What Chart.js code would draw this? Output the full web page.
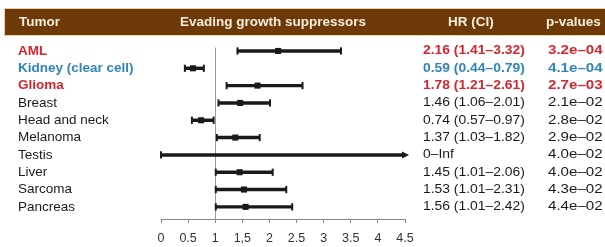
<!DOCTYPE html>
<html>
<head>
<meta charset="utf-8">
<script src="https://cdn.jsdelivr.net/npm/chart.js@4.4.1/dist/chart.umd.min.js"></script>
<style>
  html, body { margin: 0; padding: 0; background: #fff; }
  #wrap { width: 605px; height: 247px; }
</style>
</head>
<body>
<div id="wrap"><canvas id="forest"></canvas></div>
<script>
// Data
const tumors = ['AML', 'Kidney (clear cell)', 'Glioma', 'Breast', 'Head and neck',
                'Melanoma', 'Testis', 'Liver', 'Sarcoma', 'Pancreas'];
const hazardRatio = [2.16, 0.59, 1.78, 1.46, 0.74, 1.37, null, 1.45, 1.53, 1.56];
const ciLow  = [1.41, 0.44, 1.21, 1.06, 0.57, 1.03, 0, 1.01, 1.01, 1.01];
const ciHigh = [3.32, 0.79, 2.61, 2.01, 0.97, 1.82, Infinity, 2.06, 2.31, 2.42];
const pValues = [3.2e-4, 4.1e-4, 2.7e-3, 2.1e-2, 2.8e-2, 2.9e-2, 4.0e-2, 4.0e-2, 4.3e-2, 4.4e-2];
const xTickLabels = ['0', '0.5', '1', '1,5', '2', '2.5', '3', '3.5', '4', '4.5'];
const headers = ['Tumor', 'Evading growth suppressors', 'HR (CI)', 'p-values'];

// Styling
const FONT = "'Liberation Sans', Arial, sans-serif";
const X_MAX = 4.5;
const HILITE = { 0: '#d3262e', 1: '#3185b6', 2: '#d3262e' }; // rows in colour + bold
const INK = '#1a1a1a';
const DASH = '\u2013';

const rowColor = i => HILITE[i] || INK;
const rowWeight = i => (HILITE[i] ? 'bold' : 'normal');

function fmtP(p) {
    const [m, e] = p.toExponential(1).split('e');
    const n = Math.abs(parseInt(e, 10));
    return m + 'e' + DASH + (n < 10 ? '0' + n : n);
}
function fmtHR(i) {
    if (hazardRatio[i] == null) return ciLow[i] + DASH + 'Inf';
    return hazardRatio[i].toFixed(2) + ' (' + ciLow[i].toFixed(2) + DASH + ciHigh[i].toFixed(2) + ')';
}

// text in the figure is a bit wider than the font, stretch it horizontally
function wideText(ctx, txt, x, y, sx) {
    ctx.save();
    ctx.translate(x, y);
    ctx.scale(sx, 1);
    ctx.fillText(txt, 0, 0);
    ctx.restore();
}

// Header band, reference line, text columns, open-ended arrow
const forestDecor = {
    id: 'forestDecor',
    beforeDraw(chart) {
        const ctx = chart.ctx;
        ctx.save();
        ctx.fillStyle = '#6d3a07';
        ctx.fillRect(5, 9, 600, 26);
        ctx.strokeStyle = '#e8d3a8';
        ctx.lineWidth = 1;
        ctx.strokeRect(4.5, 8.5, 601, 27);
        ctx.fillStyle = '#f6ecdc';
        ctx.font = 'bold 13.5px ' + FONT;
        ctx.textBaseline = 'middle';
        const hx = [19, 180, 448, 546];
        headers.forEach((h, k) => ctx.fillText(h, hx[k], 22.5));
        ctx.restore();
    },
    beforeDatasetsDraw(chart) {
        const { ctx, chartArea } = chart;
        const x1 = chart.scales.x.getPixelForValue(1);
        ctx.save();
        ctx.strokeStyle = '#9a9a9a';
        ctx.lineWidth = 1;
        ctx.beginPath();
        ctx.moveTo(Math.round(x1) + 0.5, chartArea.top);
        ctx.lineTo(Math.round(x1) + 0.5, chartArea.bottom);
        ctx.stroke();
        ctx.restore();
    },
    afterDatasetsDraw(chart) {
        const { ctx, chartArea } = chart;
        const ys = chart.scales.y;
        ctx.save();
        ctx.textBaseline = 'middle';
        tumors.forEach((t, i) => {
            const y = ys.getPixelForValue(i);
            ctx.fillStyle = rowColor(i);
            ctx.font = rowWeight(i) + ' 12.5px ' + FONT;
            wideText(ctx, fmtHR(i), 423, y, 1.11);
            wideText(ctx, fmtP(pValues[i]), 548, y, 1.21);
            if (!isFinite(ciHigh[i])) {
                const ax = chartArea.right + 4;
                ctx.fillStyle = INK;
                ctx.beginPath();
                ctx.moveTo(ax, y);
                ctx.lineTo(ax - 7, y - 3.5);
                ctx.lineTo(ax - 7, y + 3.5);
                ctx.closePath();
                ctx.fill();
            }
        });
        ctx.restore();
    }
};

const rows = tumors.map((_, i) => i);

new Chart(document.getElementById('forest'), {
    data: {
        datasets: [
            {
                type: 'bar',
                indexAxis: 'y',
                data: rows.map(i => ({ y: i, x: [ciLow[i], Math.min(ciHigh[i], X_MAX)] })),
                backgroundColor: INK,
                barThickness: 2.8,
                clip: false
            },
            {
                type: 'scatter',
                data: rows.flatMap(i => [{ x: ciLow[i], y: i }, { x: ciHigh[i], y: i }])
                          .filter(p => isFinite(p.x)),
                pointStyle: 'line',
                rotation: 90,
                radius: 3.6,
                borderColor: INK,
                borderWidth: 2,
                clip: false
            },
            {
                type: 'scatter',
                data: rows.filter(i => hazardRatio[i] != null).map(i => ({ x: hazardRatio[i], y: i })),
                pointStyle: 'rect',
                radius: 4.3,
                backgroundColor: INK,
                borderWidth: 0,
                clip: false
            }
        ]
    },
    options: {
        responsive: true,
        maintainAspectRatio: false,
        animation: false,
        events: [],
        layout: { padding: { left: 18, right: 200, top: 47.5, bottom: 0 } },
        plugins: { legend: { display: false }, tooltip: { enabled: false } },
        scales: {
            x: {
                type: 'linear',
                min: 0,
                max: X_MAX,
                afterFit: s => { s.height = 28; },
                ticks: {
                    stepSize: 0.5,
                    autoSkip: false,
                    maxRotation: 0,
                    padding: 8,
                    color: '#333',
                    font: { family: FONT, size: 12.5 },
                    callback: (v, i) => xTickLabels[i]
                },
                grid: { drawOnChartArea: false, tickLength: 4, color: '#8a8a8a' },
                border: { color: '#8a8a8a' }
            },
            y: {
                type: 'linear',
                reverse: true,
                offset: false,
                min: -0.2,
                max: 9.7,
                afterBuildTicks: s => { s.ticks = rows.map(i => ({ value: i })); },
                afterFit: s => { s.width = 143; s.paddingTop = 0; s.paddingBottom = 0; },
                ticks: {
                    autoSkip: false,
                    crossAlign: 'far',
                    padding: 0,
                    callback: v => tumors[v],
                    color: c => rowColor(c.index),
                    font: c => ({ family: FONT, size: 13.5, weight: rowWeight(c.index) })
                },
                grid: { display: false },
                border: { display: false }
            }
        }
    },
    plugins: [forestDecor]
});
</script>
</body>
</html>
